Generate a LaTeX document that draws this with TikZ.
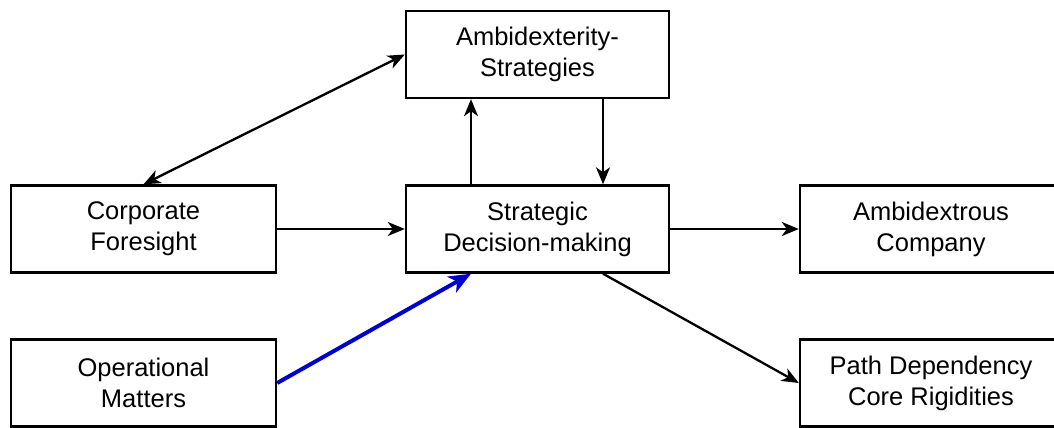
\documentclass[tikz,border=0pt]{standalone}
\usepackage{fontspec}
\setmainfont{Liberation Sans}
\usetikzlibrary{arrows.meta}
\definecolor{arrblue}{RGB}{0,0,204}
\begin{document}
\begin{tikzpicture}[x=1pt,y=-1pt,
  box/.style={draw,line width=2.4pt,minimum width=263pt,minimum height=87pt,align=center,
    font=\fontsize{25.5}{31}\selectfont,inner sep=0pt},
  tip/.tip={Stealth[length=17pt,width=14pt,inset=5pt]},
  arr/.style={line width=2.3pt,-tip},
  barr/.style={line width=2.3pt,tip-tip},
  bluearr/.style={line width=4pt,arrblue,-{Stealth[length=22pt,width=18pt,inset=6pt]}}]
\useasboundingbox (0,0) rectangle (1054,428);
\node[box] (AS) at (537.5,54.5) {Ambidexterity-\\Strategies};
\node[box,minimum width=265pt] (CF) at (143.5,229) {Corporate\\Foresight};
\node[box] (SDM) at (537.5,229) {Strategic\\Decision-making};
\node[box,minimum width=262pt] (AC) at (931,229) {Ambidextrous\\Company};
\node[box,minimum width=265pt] (OM) at (143.5,383) {Operational\\Matters};
\node[box,minimum width=262pt] (PD) at (931,383) {Path Dependency\\Core Rigidities};
\coordinate (xa) at (471,0);
\coordinate (xb) at (603,0);
\draw[barr] (CF.north) -- (AS.west);
\draw[arr] (CF.east) -- (SDM.west);
\draw[arr] (SDM.north -| xa) -- (AS.south -| xa);
\draw[arr] (AS.south -| xb) -- (SDM.north -| xb);
\draw[arr] (SDM.east) -- (AC.west);
\draw[arr] (SDM.south -| xb) -- (PD.west);
\draw[bluearr] (OM.east) -- (SDM.south -| xa);
\end{tikzpicture}
\end{document}
